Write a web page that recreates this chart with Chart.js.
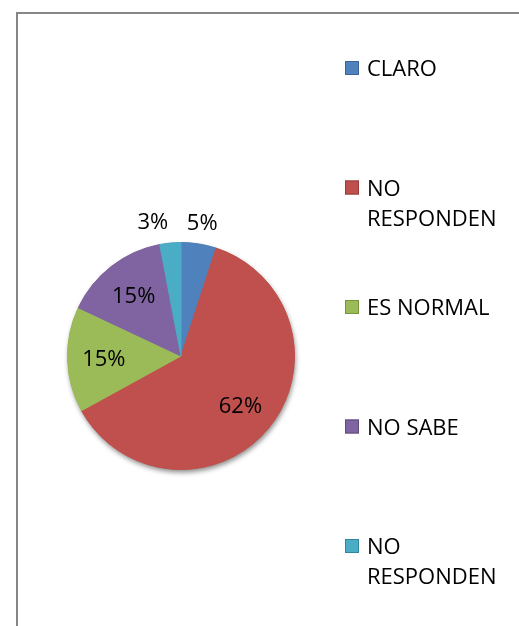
<!DOCTYPE html>
<html>
<head>
<meta charset="utf-8">
<script src="https://cdn.jsdelivr.net/npm/chart.js@4"></script>
<style>
  html, body { margin: 0; padding: 0; background: #fff; overflow: hidden; }
  #wrap { position: relative; width: 519px; height: 626px; }
  #frame { position: absolute; left: 16px; top: 12px; width: 620px; height: 720px;
           border-left: 2px solid #868686; border-top: 2px solid #868686; }
  canvas { position: absolute; left: 0; top: 0; }
</style>
</head>
<body>
<div id="wrap">
  <div id="frame"></div>
  <canvas id="pieChart" width="519" height="626"></canvas>
</div>
<script>
// data
const labels = ['CLARO', 'NO RESPONDEN', 'ES NORMAL', 'NO SABE', 'NO RESPONDEN'];
const values = [5, 62, 15, 15, 3];
const colors = ['#4F81BD', '#C0504D', '#9BBB59', '#8064A2', '#4BACC6'];
const edgeColors = ['#3B6497', '#943C39', '#77933C', '#5F4A7B', '#31859C'];

const FONT = '22px "Open Sans", sans-serif';

// soft shadow under the whole pie, drawn before the slices
const pieShadow = {
    id: 'pieShadow',
    beforeDatasetsDraw(chart) {
        let arc = chart.getDatasetMeta(0).data[0];
        if (!arc) return;
        let p = arc.getProps(['x', 'y', 'outerRadius'], true);
        let ctx = chart.ctx;
        ctx.save();
        ctx.shadowColor = 'rgba(0,0,0,0.45)';
        ctx.shadowBlur = 5;
        ctx.shadowOffsetX = 1;
        ctx.shadowOffsetY = 3;
        ctx.fillStyle = '#9a4a48';
        ctx.beginPath();
        ctx.arc(p.x, p.y, p.outerRadius, 0, Math.PI * 2);
        ctx.fill();
        ctx.restore();
    }
};

// percentage labels: inside for big slices, just outside for small ones
const pctLabels = {
    id: 'pctLabels',
    afterDatasetsDraw(chart) {
        let ctx = chart.ctx;
        let total = values.reduce((a, b) => a + b, 0);
        ctx.save();
        ctx.font = FONT;
        ctx.fillStyle = '#000';
        ctx.textBaseline = 'alphabetic';
        chart.getDatasetMeta(0).data.forEach((arc, i) => {
            let p = arc.getProps(['x', 'y', 'startAngle', 'endAngle', 'outerRadius'], true);
            let mid = (p.startAngle + p.endAngle) / 2;
            let pct = Math.round(values[i] / total * 100);
            let outside = pct < 10;
            let r = outside ? p.outerRadius + 22 : p.outerRadius * 0.68;
            let x = p.x + Math.cos(mid) * r;
            let y = p.y + Math.sin(mid) * r;
            // outside labels left of centre hang off to the left
            ctx.textAlign = (outside && x < p.x) ? 'right' : 'center';
            ctx.fillText(pct + '%', x, y + 8);
        });
        ctx.restore();
    }
};

// legend on the right, entries spread evenly, long names wrapped
const sideLegend = {
    id: 'sideLegend',
    afterDraw(chart) {
        let ctx = chart.ctx;
        let boxX = 345, textX = 367, maxW = 140;
        let top = 68, step = 119.5, lineH = 30, box = 14;
        ctx.save();
        ctx.font = FONT;
        ctx.fillStyle = '#000';
        ctx.textAlign = 'left';
        ctx.textBaseline = 'alphabetic';
        labels.forEach((lab, i) => {
            let y = top + i * step;
            // wrap words
            let lines = [], cur = '';
            lab.split(' ').forEach(w => {
                let t = cur ? cur + ' ' + w : w;
                if (ctx.measureText(t).width > maxW && cur) {
                    lines.push(cur);
                    cur = w;
                } else cur = t;
            });
            lines.push(cur);

            ctx.fillStyle = colors[i];
            ctx.fillRect(boxX, y - box / 2, box, box);
            ctx.strokeStyle = edgeColors[i];
            ctx.lineWidth = 1;
            ctx.strokeRect(boxX + 0.5, y - box / 2 + 0.5, box - 1, box - 1);

            ctx.fillStyle = '#000';
            lines.forEach((ln, k) => ctx.fillText(ln, textX, y + 8 + k * lineH));
        });
        ctx.restore();
    }
};

let ctx = document.getElementById('pieChart').getContext('2d');
new Chart(ctx, {
    type: 'pie',
    data: {
        labels: labels,
        datasets: [{
            data: values,
            backgroundColor: colors,
            borderColor: colors,
            borderWidth: 1
        }]
    },
    options: {
        responsive: false,
        animation: false,
        layout: { padding: { left: 67, right: 224, top: 242, bottom: 156 } },
        plugins: {
            legend: { display: false },
            tooltip: { enabled: false }
        }
    },
    plugins: [pieShadow, pctLabels, sideLegend]
});
</script>
</body>
</html>
